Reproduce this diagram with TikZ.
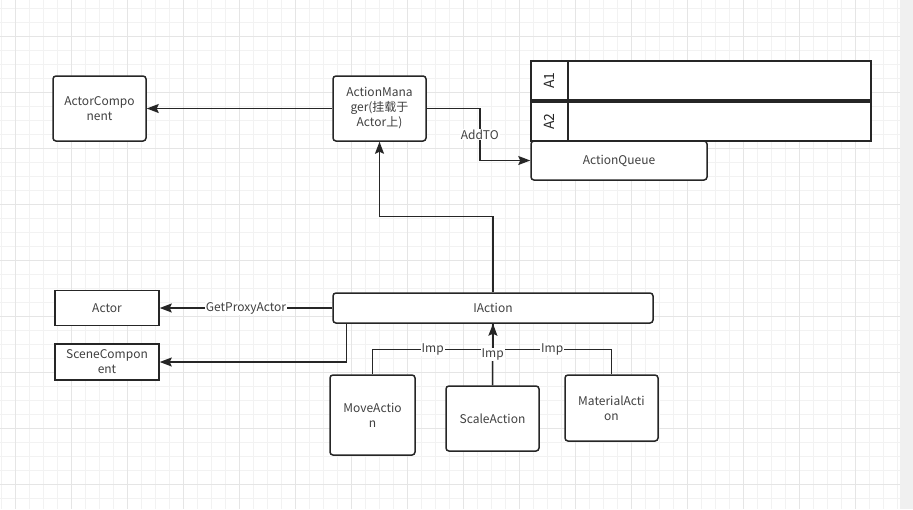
\documentclass[tikz,border=0pt]{standalone}
\usepackage{fontspec}
\setmainfont{Noto Sans CJK SC}
\usetikzlibrary{arrows.meta,positioning}
\tikzset{
  box/.style={draw=black!85, line width=1.5pt, rounded corners=3pt, fill=white,
    align=center, text=black!75, inner sep=2pt, font=\fontsize{12}{15}\selectfont},
  sqbox/.style={box, rounded corners=0pt},
  lanehead/.style={sqbox, minimum width=37pt, minimum height=39pt, outer sep=0pt,
    font=\fontsize{14}{16}\selectfont, text=black!85},
  lanebody/.style={sqbox, minimum width=303pt, minimum height=39pt, outer sep=0pt},
  link/.style={line width=1.5pt, draw=black!85},
  arr/.style={link, -{Stealth[length=12pt,width=9pt,inset=2pt]}},
  tag/.style={fill=white, inner sep=1pt, text=black!75, font=\fontsize{12}{15}\selectfont}
}
\begin{document}
\begin{tikzpicture}[x=1pt,y=-1pt]
  \useasboundingbox (0,0) rectangle (913,509);
  \fill[white] (0,0) rectangle (913,509);
  % grid
  \foreach \x in {1,15,...,900}
    \draw[black!5, line width=0.6pt] (\x,0) -- (\x,509);
  \foreach \y in {8,22,...,509}
    \draw[black!5, line width=0.6pt] (0,\y) -- (913,\y);
  \foreach \x in {15,71,...,900}
    \draw[black!10, line width=0.8pt] (\x,0) -- (\x,509);
  \foreach \y in {36,92,...,509}
    \draw[black!10, line width=0.8pt] (0,\y) -- (913,\y);
  \fill[black!6] (900,0) rectangle (913,509);

  % top row
  \node[box, minimum width=93pt, minimum height=65pt] (actcomp) at (99.5,108.5) {ActorCompo\\nent};
  \node[box, minimum width=93pt, minimum height=65pt] (mgr) at (379.5,108.5) {ActionMana\\ger(挂载于\\Actor上)};
  \node[box, minimum width=176pt, minimum height=39pt] (queue) at (619,160.5) {ActionQueue};
  \node[lanehead] (a1h) at (549.5,80.5) {\rotatebox{90}{A1}};
  \node[lanebody, right=0pt of a1h] (a1b) {};
  \node[lanehead, below=2pt of a1h] (a2h) {\rotatebox{90}{A2}};
  \node[lanebody, right=0pt of a2h] (a2b) {};

  % interface and implementations
  \node[box, minimum width=320pt, minimum height=30pt] (iact) at (493,308) {IAction};
  \node[sqbox, minimum width=104pt, minimum height=35pt] (actor) at (107,308) {Actor};
  \node[sqbox, minimum width=104pt, minimum height=36pt] (scene) at (107,362) {SceneCompon\\ent};
  \node[box, minimum width=85pt, minimum height=80pt] (move) at (372.5,415) {MoveActio\\n};
  \node[box, minimum width=93pt, minimum height=65pt] (scale) at (492.5,418.5) {ScaleAction};
  \node[box, minimum width=93pt, minimum height=66pt] (mat) at (611.5,408) {MaterialActi\\on};

  % connectors
  \draw[arr] (mgr) -- (actcomp);
  \draw[arr] (mgr.east) -- ++(53,0) |- node[tag, pos=0.25] {AddTO} (queue.west);
  \draw[arr] (iact.north) -- ++(0,-76) -| (mgr.south);
  \draw[arr] (iact.west) -- node[tag] {GetProxyActor} (actor.east);
  \draw[arr] ([xshift=14pt]iact.south west) |- (scene.east);
  \draw[link] (move.north) -- ++(0,-25) -| node[tag, pos=0.25] {Imp} (iact.south);
  \draw[link] (mat.north) -- ++(0,-25) -| node[tag, pos=0.25] {Imp} (iact.south);
  \draw[arr] (scale.north) -- node[tag] {Imp} (iact.south);
\end{tikzpicture}
\end{document}
